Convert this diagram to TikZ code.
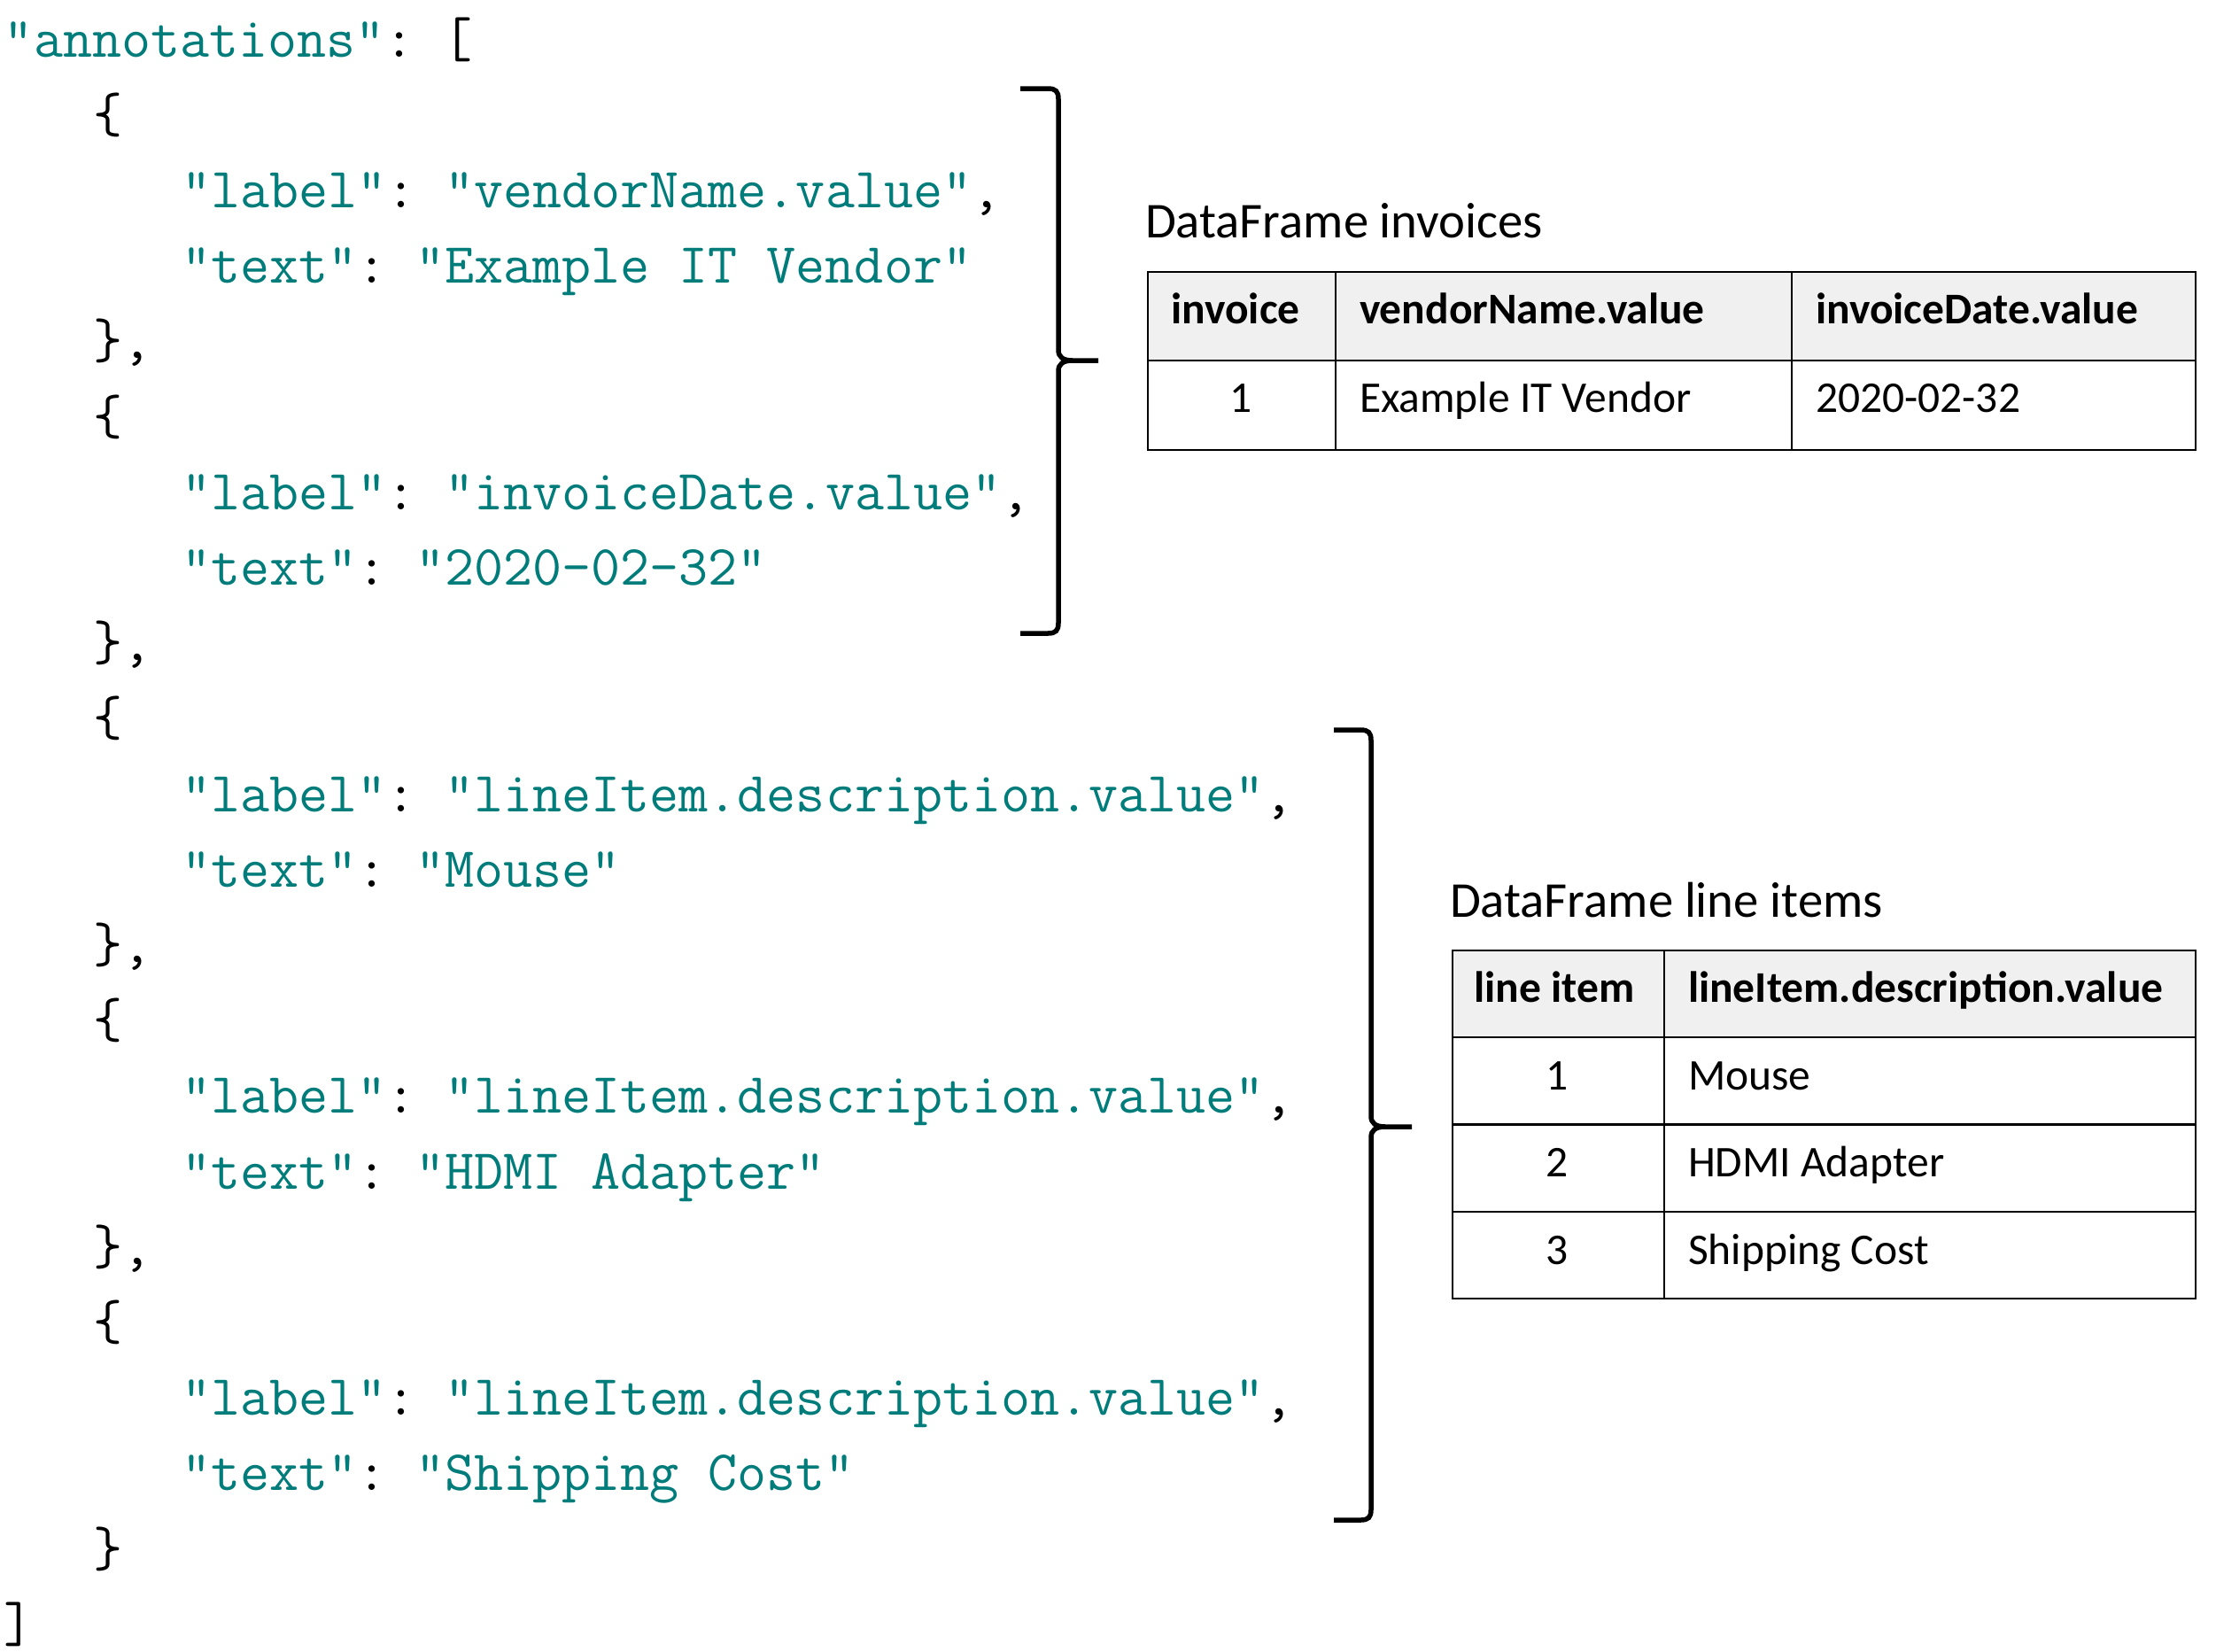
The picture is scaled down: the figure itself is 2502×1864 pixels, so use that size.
\documentclass[tikz,border=0pt]{standalone}
\usepackage{fontspec}
\newfontfamily\calibri{Carlito}
\definecolor{jsonteal}{RGB}{0,124,122}
\definecolor{hdrgray}{RGB}{240,240,240}
\newcommand\jt[1]{\textcolor{jsonteal}{#1}}
\begin{document}
\begin{tikzpicture}[x=0.3pt,y=-0.3pt,
  jsonline/.style={anchor=base west, inner sep=0pt, outer sep=0pt, font=\ttfamily\fontsize{19.25}{19.25}\selectfont\frenchspacing},
  dftitle/.style={anchor=base west, inner sep=0pt, outer sep=0pt, font=\calibri\fontsize{17.0}{17.0}\selectfont},
  cellleft/.style={anchor=base west, inner sep=0pt, outer sep=0pt, font=\calibri\fontsize{14.85}{14.85}\selectfont},
  cellmid/.style={anchor=base, inner sep=0pt, outer sep=0pt, font=\calibri\fontsize{14.85}{14.85}\selectfont},
  hdrleft/.style={cellleft, font=\calibri\bfseries\fontsize{14.85}{14.85}\selectfont},
  hdrmid/.style={cellmid, font=\calibri\bfseries\fontsize{14.85}{14.85}\selectfont},
  tableline/.style={draw=black, line width=0.85pt},
  bracestroke/.style={draw=black, line width=1.65pt}
]
\useasboundingbox (0,0) rectangle (2502,1864);

% ---------- JSON listing ----------
\node[jsonline] (l0)  at (5,64)      {\jt{"annotations"}: [};
\node[jsonline] (l1)  at (105,149.2) {\{};
\node[jsonline] (l2)  at (205,234.4) {\jt{"label"}: \jt{"vendorName.value"},};
\node[jsonline] (l3)  at (205,319.6) {\jt{"text"}: \jt{"Example IT Vendor"}};
\node[jsonline] (l4)  at (105,404.8) {\},};
\node[jsonline] (l5)  at (105,490.0) {\{};
\node[jsonline] (l6)  at (205,575.2) {\jt{"label"}: \jt{"invoiceDate.value"},};
\node[jsonline] (l7)  at (205,660.4) {\jt{"text"}: \jt{"2020-02-32"}};
\node[jsonline] (l8)  at (105,745.6) {\},};
\node[jsonline] (l9)  at (105,830.8) {\{};
\node[jsonline] (l10) at (205,916.0) {\jt{"label"}: \jt{"lineItem.description.value"},};
\node[jsonline] (l11) at (205,1001.2) {\jt{"text"}: \jt{"Mouse"}};
\node[jsonline] (l12) at (105,1086.4) {\},};
\node[jsonline] (l13) at (105,1171.6) {\{};
\node[jsonline] (l14) at (205,1256.8) {\jt{"label"}: \jt{"lineItem.description.value"},};
\node[jsonline] (l15) at (205,1342.0) {\jt{"text"}: \jt{"HDMI Adapter"}};
\node[jsonline] (l16) at (105,1427.2) {\},};
\node[jsonline] (l17) at (105,1512.4) {\{};
\node[jsonline] (l18) at (205,1597.6) {\jt{"label"}: \jt{"lineItem.description.value"},};
\node[jsonline] (l19) at (205,1682.8) {\jt{"text"}: \jt{"Shipping Cost"}};
\node[jsonline] (l20) at (105,1768.0) {\}};
\node[jsonline] (l21) at (5,1853.2)  {]};

% ---------- braces ----------
\draw[bracestroke] (1152,100) -- (1183,100) .. controls (1192,100) and (1195,103) .. (1195,112)
  -- (1195,395) .. controls (1195,403) and (1200,407) .. (1211,407) -- (1240,407);
\draw[bracestroke] (1211,407) .. controls (1200,407) and (1195,411) .. (1195,419)
  -- (1195,703) .. controls (1195,712) and (1192,715) .. (1183,715) -- (1152,715);

\draw[bracestroke] (1506,824) -- (1536,824) .. controls (1545,824) and (1548,827) .. (1548,836)
  -- (1548,1260) .. controls (1548,1268) and (1553,1272) .. (1564,1272) -- (1594,1272);
\draw[bracestroke] (1564,1272) .. controls (1553,1272) and (1548,1276) .. (1548,1284)
  -- (1548,1704) .. controls (1548,1713) and (1545,1716) .. (1536,1716) -- (1506,1716);

% ---------- table: invoices ----------
\node[dftitle] (t1title) at (1293,268) {DataFrame invoices};
\fill[hdrgray] (1296,307) rectangle (2479,407);
\draw[tableline] (1296,307) rectangle (2479,508);
\draw[tableline] (1296,407) -- (2479,407);
\draw[tableline] (1508,307) -- (1508,508);
\draw[tableline] (2023,307) -- (2023,508);
\node[hdrmid]  (t1h1) at (1395,365.5) {invoice};
\node[hdrleft] (t1h2) at (1535,365.5) {vendorName.value};
\node[hdrleft] (t1h3) at (2050,365.5) {invoiceDate.value};
\node[cellmid]  (t1c1) at (1401,465.5) {1};
\node[cellleft] (t1c2) at (1535,465.5) {Example IT Vendor};
\node[cellleft] (t1c3) at (2050,465.5) {2020-02-32};

% ---------- table: line items ----------
\node[dftitle] (t2title) at (1637,1035) {DataFrame line items};
\fill[hdrgray] (1640,1073) rectangle (2479,1171);
\draw[tableline] (1640,1073) rectangle (2479,1466);
\draw[tableline] (1640,1171) -- (2479,1171);
\draw[tableline] (1640,1269.5) -- (2479,1269.5);
\draw[tableline] (1640,1368) -- (2479,1368);
\draw[tableline] (1879,1073) -- (1879,1466);
\node[hdrmid]  (t2h1) at (1755,1131.5) {line item};
\node[hdrleft] (t2h2) at (1906,1131.5) {lineItem.description.value};
\node[cellmid]  (t2r1c1) at (1758,1230) {1};
\node[cellleft] (t2r1c2) at (1906,1230) {Mouse};
\node[cellmid]  (t2r2c1) at (1758,1328.5) {2};
\node[cellleft] (t2r2c2) at (1906,1328.5) {HDMI Adapter};
\node[cellmid]  (t2r3c1) at (1758,1427) {3};
\node[cellleft] (t2r3c2) at (1906,1427) {Shipping Cost};
\end{tikzpicture}
\end{document}
